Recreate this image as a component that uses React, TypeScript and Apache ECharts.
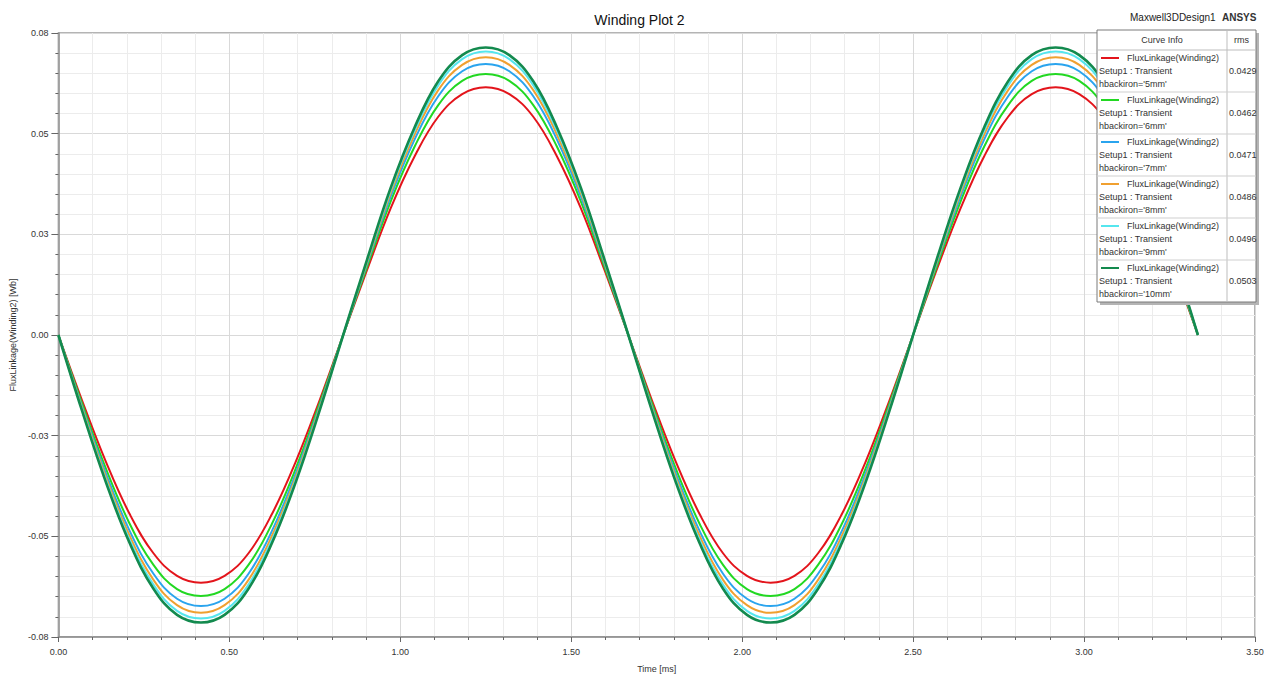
import React, { useEffect, useRef } from "react";
import * as echarts from "echarts";

const times: number[] = [
  0, 0.069, 0.139, 0.208, 0.278, 0.347, 0.417, 0.486, 0.556, 0.625, 0.694, 0.764,
  0.833, 0.903, 0.972, 1.042, 1.111, 1.181, 1.25, 1.319, 1.389, 1.458, 1.528, 1.597,
  1.667, 1.736, 1.806, 1.875, 1.944, 2.014, 2.083, 2.153, 2.222, 2.292, 2.361, 2.431,
  2.5, 2.569, 2.639, 2.708, 2.778, 2.847, 2.917, 2.986, 3.056, 3.125, 3.194, 3.264, 3.333,
];

const flux5mm: number[] = [
  0, -0.0162, -0.0315, -0.0444, -0.0542, -0.0598, -0.0615, -0.0598, -0.0542, -0.0444, -0.0315, -0.0162,
  0, 0.0162, 0.0315, 0.0444, 0.0542, 0.0598, 0.0615, 0.0598, 0.0542, 0.0444, 0.0315, 0.0162,
  0, -0.0162, -0.0315, -0.0444, -0.0542, -0.0598, -0.0615, -0.0598, -0.0542, -0.0444, -0.0315, -0.0162,
  0, 0.0162, 0.0315, 0.0444, 0.0542, 0.0598, 0.0615, 0.0598, 0.0542, 0.0444, 0.0315, 0.0162, 0,
];
const flux6mm: number[] = [
  0, -0.017, -0.0332, -0.0468, -0.0571, -0.0631, -0.0648, -0.0631, -0.0571, -0.0468, -0.0332, -0.017,
  0, 0.017, 0.0332, 0.0468, 0.0571, 0.0631, 0.0648, 0.0631, 0.0571, 0.0468, 0.0332, 0.017,
  0, -0.017, -0.0332, -0.0468, -0.0571, -0.0631, -0.0648, -0.0631, -0.0571, -0.0468, -0.0332, -0.017,
  0, 0.017, 0.0332, 0.0468, 0.0571, 0.0631, 0.0648, 0.0631, 0.0571, 0.0468, 0.0332, 0.017, 0,
];
const flux7mm: number[] = [
  0, -0.0177, -0.0344, -0.0486, -0.0593, -0.0655, -0.0673, -0.0655, -0.0593, -0.0486, -0.0344, -0.0177,
  0, 0.0177, 0.0344, 0.0486, 0.0593, 0.0655, 0.0673, 0.0655, 0.0593, 0.0486, 0.0344, 0.0177,
  0, -0.0177, -0.0344, -0.0486, -0.0593, -0.0655, -0.0673, -0.0655, -0.0593, -0.0486, -0.0344, -0.0177,
  0, 0.0177, 0.0344, 0.0486, 0.0593, 0.0655, 0.0673, 0.0655, 0.0593, 0.0486, 0.0344, 0.0177, 0,
];
const flux8mm: number[] = [
  0, -0.0181, -0.0353, -0.0498, -0.0608, -0.0671, -0.069, -0.0671, -0.0608, -0.0498, -0.0353, -0.0181,
  0, 0.0181, 0.0353, 0.0498, 0.0608, 0.0671, 0.069, 0.0671, 0.0608, 0.0498, 0.0353, 0.0181,
  0, -0.0181, -0.0353, -0.0498, -0.0608, -0.0671, -0.069, -0.0671, -0.0608, -0.0498, -0.0353, -0.0181,
  0, 0.0181, 0.0353, 0.0498, 0.0608, 0.0671, 0.069, 0.0671, 0.0608, 0.0498, 0.0353, 0.0181, 0,
];
const flux9mm: number[] = [
  0, -0.0185, -0.036, -0.0508, -0.062, -0.0685, -0.0704, -0.0685, -0.062, -0.0508, -0.036, -0.0185,
  0, 0.0185, 0.036, 0.0508, 0.062, 0.0685, 0.0704, 0.0685, 0.062, 0.0508, 0.036, 0.0185,
  0, -0.0185, -0.036, -0.0508, -0.062, -0.0685, -0.0704, -0.0685, -0.062, -0.0508, -0.036, -0.0185,
  0, 0.0185, 0.036, 0.0508, 0.062, 0.0685, 0.0704, 0.0685, 0.062, 0.0508, 0.036, 0.0185, 0,
];
const flux10mm: number[] = [
  0, -0.0188, -0.0366, -0.0516, -0.063, -0.0695, -0.0714, -0.0695, -0.063, -0.0516, -0.0366, -0.0188,
  0, 0.0188, 0.0366, 0.0516, 0.063, 0.0695, 0.0714, 0.0695, 0.063, 0.0516, 0.0366, 0.0188,
  0, -0.0188, -0.0366, -0.0516, -0.063, -0.0695, -0.0714, -0.0695, -0.063, -0.0516, -0.0366, -0.0188,
  0, 0.0188, 0.0366, 0.0516, 0.063, 0.0695, 0.0714, 0.0695, 0.063, 0.0516, 0.0366, 0.0188, 0,
];

const seriesValues: number[][] = [flux5mm, flux6mm, flux7mm, flux8mm, flux9mm, flux10mm];
const hbackiron: string[] = ["5mm", "6mm", "7mm", "8mm", "9mm", "10mm"];
const rmsValues: string[] = ["0.0429", "0.0462", "0.0471", "0.0486", "0.0496", "0.0503"];
const seriesColors: string[] = ["#e3141b", "#22d822", "#2aa4ee", "#f0a030", "#55e6ee", "#138a4e"];
const seriesWidths: number[] = [2, 2, 2, 2, 2, 2.6];

const yTickValues: number[] = [-0.075, -0.05, -0.025, 0, 0.025, 0.05, 0.075];
const yTickLabels: string[] = ["-0.08", "-0.05", "-0.03", "0.00", "0.03", "0.05", "0.08"];
const xTickLabels: string[] = ["0.00", "0.50", "1.00", "1.50", "2.00", "2.50", "3.00", "3.50"];

const FONT = "Arial, 'Liberation Sans', sans-serif";

function buildLegend(): any[] {
  const bx = 1097;
  const by = 30;
  const bw = 159;
  const headH = 20;
  const rowH = 42;
  const bh = headH + rowH * hbackiron.length;
  const colX = 1227;
  const els: any[] = [];
  els.push({ type: "rect", z: 100, shape: { x: bx + 3, y: by + 3, width: bw, height: bh }, style: { fill: "#b4b4b4" } });
  els.push({ type: "rect", z: 101, shape: { x: bx, y: by, width: bw, height: bh }, style: { fill: "#ffffff", stroke: "#7a7a7a", lineWidth: 1 } });
  els.push({ type: "line", z: 102, shape: { x1: colX, y1: by, x2: colX, y2: by + bh }, style: { stroke: "#bdbdbd", lineWidth: 1 } });
  els.push({ type: "line", z: 102, shape: { x1: bx, y1: by + headH, x2: bx + bw, y2: by + headH }, style: { stroke: "#bdbdbd", lineWidth: 1 } });
  els.push({ type: "text", z: 103, x: (bx + colX) / 2, y: by + headH / 2, style: { text: "Curve Info", font: `9px ${FONT}`, fill: "#333", align: "center", verticalAlign: "middle" } });
  els.push({ type: "text", z: 103, x: (colX + bx + bw) / 2, y: by + headH / 2, style: { text: "rms", font: `9px ${FONT}`, fill: "#333", align: "center", verticalAlign: "middle" } });
  hbackiron.forEach((h, i) => {
    const top = by + headH + rowH * i;
    if (i < hbackiron.length - 1) {
      els.push({ type: "line", z: 102, shape: { x1: bx, y1: top + rowH, x2: bx + bw, y2: top + rowH }, style: { stroke: "#cfcfcf", lineWidth: 1 } });
    }
    els.push({ type: "line", z: 103, shape: { x1: bx + 4, y1: top + 8, x2: bx + 22, y2: top + 8 }, style: { stroke: seriesColors[i], lineWidth: 2 } });
    els.push({ type: "text", z: 103, x: bx + 30, y: top + 8, style: { text: "FluxLinkage(Winding2)", font: `9px ${FONT}`, fill: "#333", verticalAlign: "middle" } });
    els.push({ type: "text", z: 103, x: bx + 2, y: top + 21, style: { text: "Setup1 : Transient", font: `9px ${FONT}`, fill: "#333", verticalAlign: "middle" } });
    els.push({ type: "text", z: 103, x: bx + 2, y: top + 34, style: { text: `hbackiron='${h}'`, font: `9px ${FONT}`, fill: "#333", verticalAlign: "middle" } });
    els.push({ type: "text", z: 103, x: colX + 2, y: top + 21, style: { text: rmsValues[i], font: `9px ${FONT}`, fill: "#333", verticalAlign: "middle" } });
  });
  return els;
}

export default function App() {
  const ref = useRef<HTMLDivElement>(null);
  useEffect(() => {
    if (!ref.current) return;
    const chart = echarts.init(ref.current, null, { renderer: "svg" });
    const option: any = {
      animation: false,
      backgroundColor: "#ffffff",
      textStyle: { fontFamily: FONT },
      title: {
        text: "Winding Plot 2",
        left: "center",
        top: 8,
        textStyle: { fontSize: 14, fontWeight: "normal", color: "#111", fontFamily: FONT },
      },
      grid: {
        left: 55,
        right: 24,
        top: 33,
        bottom: 42,
        show: true,
        borderColor: "#9c9c9c",
        borderWidth: 1.5,
        backgroundColor: "transparent",
      },
      xAxis: {
        type: "value",
        min: 0,
        max: 3.5,
        interval: 0.5,
        name: "Time [ms]",
        nameLocation: "middle",
        nameGap: 27,
        nameTextStyle: { fontSize: 9, color: "#333", fontFamily: FONT },
        axisLine: { show: true, onZero: false, lineStyle: { color: "#8c8c8c", width: 1.5 } },
        axisTick: { show: true, length: 5, lineStyle: { color: "#666" } },
        minorTick: { show: true, splitNumber: 5, length: 3, lineStyle: { color: "#666" } },
        axisLabel: {
          fontSize: 9,
          color: "#333",
          margin: 10,
          formatter: (v: number) => xTickLabels[Math.round(v / 0.5)] ?? "",
        },
        splitLine: { show: true, lineStyle: { color: "#d9d9d9", width: 1 } },
        minorSplitLine: { show: true, lineStyle: { color: "#ececec", width: 1 } },
      },
      yAxis: {
        type: "value",
        min: -0.075,
        max: 0.075,
        interval: 0.025,
        name: "FluxLinkage(Winding2) [Wb]",
        nameLocation: "middle",
        nameGap: 38,
        nameTextStyle: { fontSize: 9, color: "#333", fontFamily: FONT },
        axisLine: { show: true, onZero: false, lineStyle: { color: "#8c8c8c", width: 1.5 } },
        axisTick: { show: true, length: 7, lineStyle: { color: "#666" } },
        minorTick: { show: true, splitNumber: 5, length: 3, lineStyle: { color: "#666" } },
        axisLabel: {
          fontSize: 9,
          color: "#333",
          margin: 10,
          formatter: (v: number) => {
            const idx = yTickValues.findIndex((t) => Math.abs(t - v) < 1e-9);
            return idx >= 0 ? yTickLabels[idx] : "";
          },
        },
        splitLine: { show: true, lineStyle: { color: "#d9d9d9", width: 1 } },
        minorSplitLine: { show: true, lineStyle: { color: "#ececec", width: 1 } },
      },
      series: seriesValues.map((vals, i) => ({
        type: "line",
        name: `hbackiron='${hbackiron[i]}'`,
        data: times.map((t, j) => [t, vals[j]]),
        showSymbol: false,
        symbol: "none",
        smooth: 0.4,
        z: 2 + i,
        lineStyle: { color: seriesColors[i], width: seriesWidths[i] },
        itemStyle: { color: seriesColors[i] },
      })),
      graphic: [
        {
          type: "text",
          z: 100,
          x: 1130,
          y: 17,
          style: { text: "Maxwell3DDesign1", font: `10px ${FONT}`, fill: "#222", verticalAlign: "middle" },
        },
        {
          type: "text",
          z: 100,
          x: 1222,
          y: 17,
          style: { text: "ANSYS", font: `bold 10px ${FONT}`, fill: "#333", verticalAlign: "middle" },
        },
        ...buildLegend(),
      ],
    };
    chart.setOption(option);
    return () => chart.dispose();
  }, []);
  return (
    <div
      ref={ref}
      style={{ position: "fixed", left: 0, top: 0, width: 1279, height: 679, background: "#fff" }}
    />
  );
}
